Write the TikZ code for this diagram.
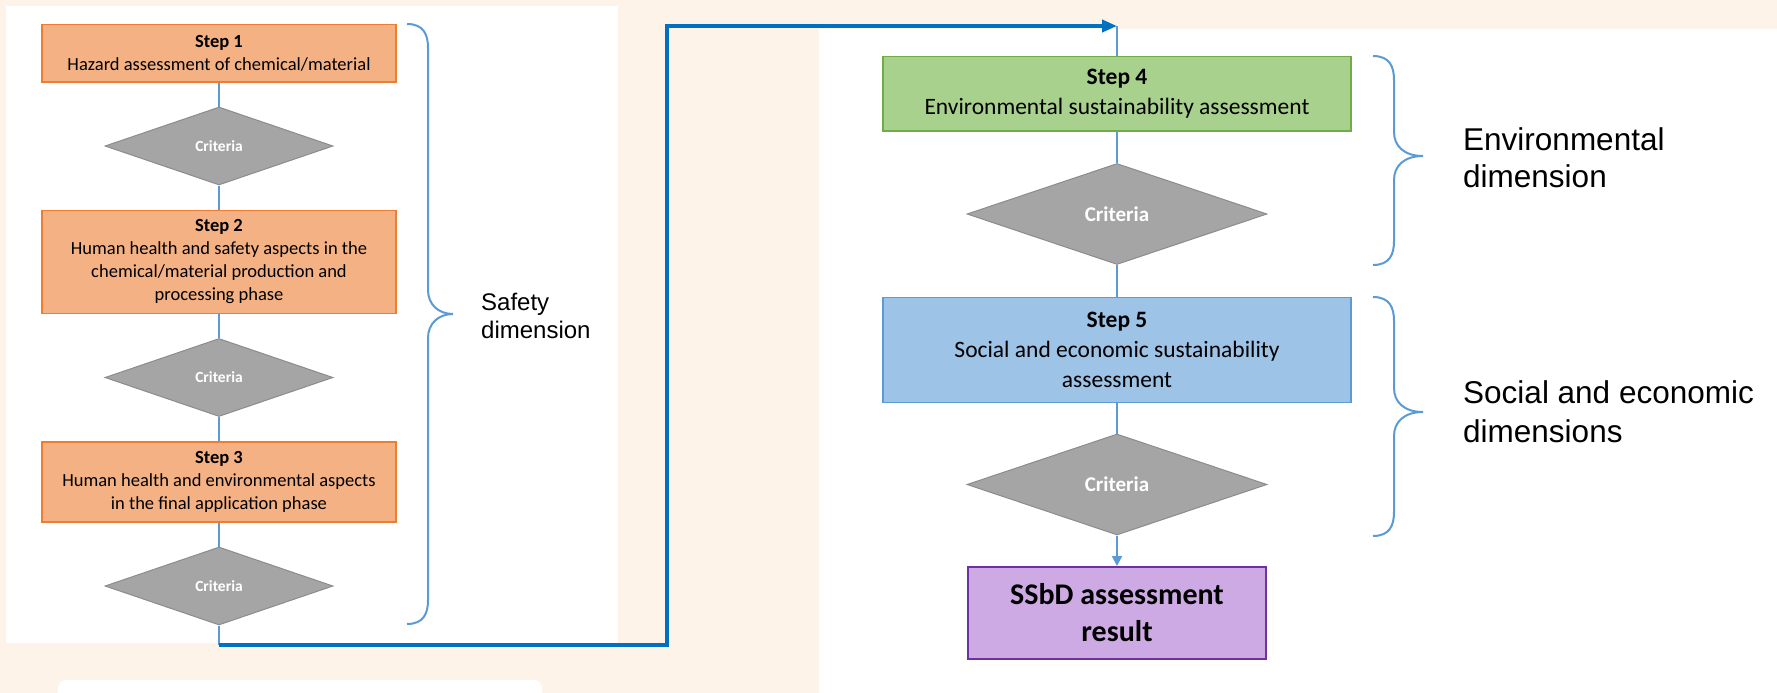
\documentclass[tikz,border=0pt]{standalone}
\usepackage{fontspec}
\setmainfont{Carlito}
\newfontfamily\dimfont{Liberation Sans}
\usetikzlibrary{shapes.geometric,positioning,arrows.meta}

\definecolor{Cream}{HTML}{FDF3E9}
\definecolor{OrangeFill}{HTML}{F4B183}
\definecolor{OrangeLine}{HTML}{ED7D31}
\definecolor{GreenFill}{HTML}{A9D18E}
\definecolor{GreenLine}{HTML}{70AD47}
\definecolor{BlueFill}{HTML}{9DC3E6}
\definecolor{BlueLine}{HTML}{5B9BD5}
\definecolor{PurpleFill}{HTML}{CDAAE4}
\definecolor{PurpleLine}{HTML}{7030A0}
\definecolor{GreyFill}{HTML}{A5A5A5}
\definecolor{GreyLine}{HTML}{8C8C8C}
\definecolor{LoopBlue}{HTML}{0070C0}

% curly bracket: left x, spine x, tip x, top y, tip y, bottom y
\newcommand\sidebrace[6]{%
  \draw[Brace] (#1,#4) .. controls (#2-4,#4) and (#2,#4+11) .. (#2,#4+24)
    -- (#2,#5-24) .. controls (#2,#5-10) and (#2+10,#5) .. (#3,#5)
    .. controls (#2+10,#5) and (#2,#5+10) .. (#2,#5+24)
    -- (#2,#6-24) .. controls (#2,#6-11) and (#2-4,#6) .. (#1,#6);}

\begin{document}
\begin{tikzpicture}[x=1pt,y=-1pt,
	Link/.style={draw=BlueLine,line width=2pt},
	Loop/.style={draw=LoopBlue,line width=4pt},
	Brace/.style={draw=BlueLine,line width=2pt},
	StepLeft/.style={rectangle,fill=OrangeFill,draw=OrangeLine,line width=1.5pt,minimum width=354pt,inner sep=0pt,align=center,font=\fontsize{18.5}{23}\selectfont},
	StepRight/.style={rectangle,draw,line width=1.5pt,minimum width=468pt,inner sep=0pt,align=center,font=\fontsize{23.5}{30}\selectfont},
	Crit/.style={diamond,fill=GreyFill,draw=GreyLine,line width=1pt,inner sep=0pt,minimum width=228pt,minimum height=78pt,text=white,font=\fontsize{15.5}{18}\selectfont\bfseries},
	CritBig/.style={Crit,minimum width=300pt,minimum height=101pt,font=\fontsize{21}{24}\selectfont\bfseries},
	Result/.style={rectangle,fill=PurpleFill,draw=PurpleLine,line width=1.5pt,minimum width=298pt,minimum height=92pt,inner sep=0pt,align=center,font=\fontsize{30}{37}\selectfont\bfseries},
	DimLabel/.style={inner sep=0pt,align=left,anchor=west},
]
	\useasboundingbox (0,0) rectangle (1777,693);
	\clip (0,0) rectangle (1777,693);
	\fill[Cream] (0,0) rectangle (1777,693);
	\fill[white] (6,6) rectangle (618,643);
	\fill[white] (819,29) rectangle (1777,693);
	\fill[white,rounded corners=8pt] (58,710) -- (58,680) -- (542,680) -- (542,710) -- cycle;

	% safety dimension
	\node[StepLeft,minimum height=57pt,anchor=north] (step1) at (219,24) {\textbf{Step 1}\\Hazard assessment of chemical/material};
	\node[Crit,below=24pt of step1] (crit1) {Criteria};
	\node[StepLeft,minimum height=103pt,below=24pt of crit1] (step2) {\textbf{Step 2}\\Human health and safety aspects in the\\chemical/material production and\\processing phase};
	\node[Crit,below=24pt of step2] (crit2) {Criteria};
	\node[StepLeft,minimum height=80pt,below=24pt of crit2] (step3) {\textbf{Step 3}\\Human health and environmental aspects\\in the final application phase};
	\node[Crit,below=24pt of step3] (crit3) {Criteria};

	% sustainability dimensions
	\node[StepRight,fill=GreenFill,draw=GreenLine,minimum height=74pt,anchor=north] (step4) at (1117,56) {\textbf{Step 4}\\Environmental sustainability assessment};
	\node[CritBig,below=31.5pt of step4] (crit4) {Criteria};
	\node[StepRight,fill=BlueFill,draw=BlueLine,minimum height=105pt,below=31.5pt of crit4] (step5) {\textbf{Step 5}\\Social and economic sustainability\\assessment};
	\node[CritBig,below=30.5pt of step5] (crit5) {Criteria};
	\node[Result,below=30.5pt of crit5] (result) {SSbD assessment\\result};

	\coordinate (loopstart) at (219,645);
	\coordinate (turnA) at (667,645);
	\coordinate (turnB) at (667,26);
	\coordinate (loopend) at (1117,26);

	\draw[Link] (step1) -- (crit1);
	\draw[Link] (crit1) -- (step2);
	\draw[Link] (step2) -- (crit2);
	\draw[Link] (crit2) -- (step3);
	\draw[Link] (step3) -- (crit3);
	\draw[Link] (crit3) -- (loopstart);
	\draw[Link] (loopend) -- (step4);
	\draw[Link] (step4) -- (crit4);
	\draw[Link] (crit4) -- (step5);
	\draw[Link] (step5) -- (crit5);
	\draw[Link,-{Triangle[length=10pt,width=10pt]}] (crit5) -- (result);
	\draw[Loop,-{Triangle[length=15pt,width=12pt]}] (loopstart) -- (turnA) -- (turnB) -- (loopend);

	\sidebrace{407}{428}{453}{24}{314}{624}
	\sidebrace{1373}{1394}{1423}{56}{156}{265}
	\sidebrace{1373}{1394}{1423}{297}{412}{536}

	\node[DimLabel,font=\fontsize{24}{28}\selectfont\dimfont] (safety) at (481,315.5) {Safety\\dimension};
	\node[DimLabel,font=\fontsize{31.5}{37}\selectfont\dimfont] (envdim) at (1463,157.5) {Environmental\\dimension};
	\node[DimLabel,font=\fontsize{31.5}{39}\selectfont\dimfont] (socdim) at (1463,412) {Social and economic\\dimensions};
\end{tikzpicture}
\end{document}
